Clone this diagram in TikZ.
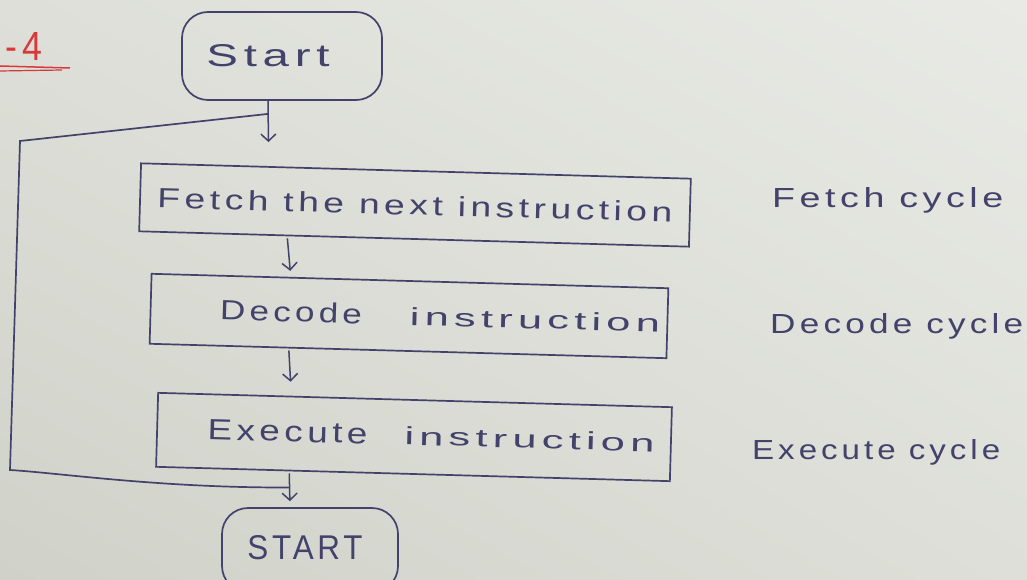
\documentclass[tikz,border=0pt]{standalone}
\usepackage{fontspec}
\setmainfont{Liberation Sans}
\usetikzlibrary{arrows.meta,calc,shadings}
\definecolor{paperlight}{RGB}{233,234,229}
\definecolor{paper}{RGB}{221,223,216}
\definecolor{paperdark}{RGB}{208,210,202}
\definecolor{ink}{RGB}{66,66,106}
\definecolor{redink}{RGB}{214,58,58}
% handwritten word stretched to a given width and height
\newcommand{\inkt}[3]{\resizebox{#1}{#2}{\addfontfeature{LetterSpace=12}#3}}
\begin{document}
\begin{tikzpicture}[x=1pt,y=-1pt,
  inkline/.style={draw=ink,line width=1.7pt},
  term/.style={inkline,rounded corners=26pt,inner sep=0pt,text=ink},
  stepbox/.style={inkline,inner sep=0pt,text=ink,rotate=-1.6},
  cyc/.style={text=ink,inner sep=0pt,anchor=west},
  flow/.style={draw=ink,line width=1.5pt,-{Straight Barb[length=7pt,width=15pt,line width=1.5pt]}}]
  % paper
  \useasboundingbox (0,0) rectangle (1027,580);
  \clip (0,0) rectangle (1027,580);
  \shade[upper left=paper,upper right=paperlight,lower left=paperdark,lower right=paper]
    (0,0) rectangle (1027,580);

  % question number in red
  \node[text=redink,inner sep=0pt] (qn) at (24,46) {\inkt{36pt}{28pt}{-4}};
  \draw[redink,line width=1.5pt] (0,66) -- (70,68);
  \draw[redink,line width=1.2pt] (0,71) -- (62,70);

  % terminals
  \node[term,minimum width=200pt,minimum height=88pt] (start) at (282,56)
    {\hspace*{-28pt}\inkt{123pt}{22pt}{Start}};
  \node[term,minimum width=176pt,minimum height=84pt] (stop) at (310,550)
    {\hspace*{-10pt}\raisebox{6pt}{\inkt{115pt}{24pt}{START}}};

  % processing steps
  \node[stepbox,minimum width=550pt,minimum height=68pt] (fetch) at (415,205)
    {\raisebox{-2pt}{\inkt{515pt}{20pt}{Fetch the next instruction}}};
  \node[stepbox,minimum width=517pt,minimum height=70pt] (decode) at (409,316)
    {\hspace*{62pt}\raisebox{2pt}{\inkt{142pt}{20pt}{Decode}\hspace{48pt}\inkt{250pt}{18pt}{instruction}}};
  \node[stepbox,minimum width=514pt,minimum height=74pt] (exec) at (414,437)
    {\hspace*{34pt}\raisebox{4pt}{\inkt{160pt}{20pt}{Execute}\hspace{37pt}\inkt{250pt}{18pt}{instruction}}};

  % cycle labels
  \node[cyc] (lf) at (772,200) {\inkt{231pt}{20pt}{Fetch cycle}};
  \node[cyc] (ld) at (770,326) {\inkt{253pt}{20pt}{Decode cycle}};
  \node[cyc] (le) at (752,452) {\inkt{248pt}{20pt}{Execute cycle}};

  % main flow
  \draw[flow,shorten >=24pt] (start.south -| 268,0) --
    ($(fetch.north west)!0.233!(fetch.north east)$) coordinate[pos=0.2] (jin);
  \draw[flow,shorten <=2pt,shorten >=6pt] ($(fetch.south west)!0.27!(fetch.south east)$) --
    ($(decode.north west)!0.27!(decode.north east)$);
  \draw[flow,shorten <=2pt,shorten >=14pt] ($(decode.south west)!0.27!(decode.south east)$) --
    ($(exec.north west)!0.26!(exec.north east)$);
  \draw[flow,shorten <=2pt,shorten >=6pt] ($(exec.south west)!0.26!(exec.south east)$) --
    (stop.north -| 290,0) coordinate[pos=0.45] (jout);

  % loop back to the fetch step
  \coordinate (lb) at (10,470);
  \coordinate (lt) at (20,141);
  \draw[inkline] (jout) .. controls (160,488) and (60,473) .. (lb) -- (lt) -- (jin);
\end{tikzpicture}
\end{document}
